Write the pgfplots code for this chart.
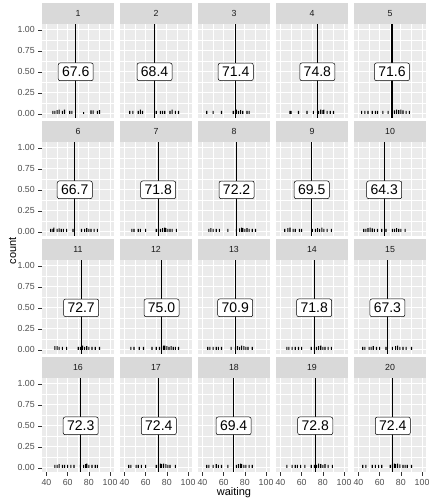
\documentclass[border=0pt]{standalone}
\usepackage{fontspec}
\setmainfont{Liberation Sans}
\usepackage{pgfplots}
\pgfplotsset{compat=1.18}
\definecolor{panelbg}{RGB}{235,235,235}
\definecolor{stripbg}{RGB}{217,217,217}
\definecolor{gray30}{RGB}{77,77,77}
\definecolor{gray20}{RGB}{51,51,51}
\definecolor{gray10}{RGB}{26,26,26}

\tikzset{
  lbl/.style={fill=white, draw=black, line width=0.5bp, rounded corners=2bp,
    inner sep=3.9bp, font=\fontsize{14bp}{16bp}\selectfont, text=black},
}
\pgfplotsset{
  panel/.style={
    anchor=north west, width=72bp, height=94bp, scale only axis,
    xmin=35.8, xmax=103.7, ymin=-0.05, ymax=1.07,
    xtick={40,60,80,100}, ytick={0,0.25,0.5,0.75,1},
    minor tick num=1, minor tick length=0pt,
    grid=both,
    major grid style={white, line width=1.1bp},
    minor grid style={white, line width=0.55bp},
    axis background/.style={fill=panelbg},
    axis line style={draw=none},
    tick pos=left,
    tick align=outside, major tick length=3.7bp,
    tick style={gray20, line width=0.55bp},
    xtick style={draw=none}, ytick style={draw=none},
    xticklabels={}, yticklabels={},
    /pgf/number format/assume math mode=true,
    ticklabel style={font=\fontsize{8.8bp}{10bp}\selectfont, text=gray30},
    clip=true,
  },
  leftcol/.style={
    ytick style={draw, gray20, line width=0.55bp},
    yticklabels={0.00,0.25,0.50,0.75,1.00},
  },
  bottomrow/.style={
    xtick style={draw, gray20, line width=0.55bp},
    xticklabels={40,60,80,100},
  },
  bars/.style={ybar, bar width=1.05, fill=black, draw=none},
  vline/.style={black, line width=1.1bp},
}

% #1 x, #2 y, #3 facet, #4 mean, #5 bars, #6 extra options
\newcommand{\panel}[6]{%
\begin{axis}[panel, at={(#1bp,#2bp)}, #6,
  extra description/.code={%
    \fill[stripbg] (rel axis cs:0,1) rectangle ([yshift=20.5bp]rel axis cs:1,1);
    \node[font=\fontsize{8.8bp}{10bp}\selectfont, text=gray10]
      at ([yshift=10.5bp]rel axis cs:0.5,1) {#3};}]
\addplot[bars] coordinates {#5};
\addplot[vline] coordinates {(#4,-0.05) (#4,1.07)} node[pos=0.49107, lbl] {#4};
\end{axis}}

\begin{document}
\begin{tikzpicture}
% row 1
\panel{42}{480}{1}{67.6}{(46,0.035)(48,0.035)(50,0.045)(52,0.05)(55,0.035)(57,0.05)(62,0.035)(64,0.035)(75,0.02)(82,0.04)(84,0.04)(88,0.035)(90,0.045)}{leftcol}
\panel{120}{480}{2}{68.4}{(45,0.035)(48,0.035)(53,0.035)(55,0.05)(57,0.035)(70,0.035)(74,0.035)(76,0.035)(78,0.035)(83,0.035)(85,0.05)(88,0.035)(91,0.035)}{}
\panel{198}{480}{3}{71.4}{(44,0.035)(50,0.035)(58,0.035)(69,0.035)(71,0.04)(72,0.05)(74,0.035)(76,0.045)(78,0.035)(82,0.035)(84,0.035)}{}
\panel{276}{480}{4}{74.8}{(49,0.035)(50,0.035)(57,0.035)(65,0.035)(71,0.035)(76,0.035)(78,0.05)(80,0.045)(81,0.05)(84,0.035)(87,0.035)(90,0.035)}{}
\panel{354}{480}{5}{71.6}{(43,0.035)(46,0.035)(49,0.035)(53,0.035)(56,0.035)(58,0.035)(63,0.035)(68,0.035)(72,0.035)(74,0.04)(76,0.05)(78,0.045)(80,0.05)(82,0.04)(85,0.035)(88,0.035)}{}
% row 2
\panel{42}{362}{6}{66.7}{(44,0.035)(46,0.035)(47,0.05)(50,0.035)(52,0.04)(54,0.035)(56,0.035)(59,0.035)(65,0.035)(73,0.035)(76,0.035)(78,0.045)(80,0.035)(82,0.035)(85,0.035)(88,0.035)}{leftcol}
\panel{120}{362}{7}{71.8}{(47,0.035)(49,0.035)(53,0.035)(55,0.035)(60,0.035)(70,0.035)(72,0.035)(74,0.035)(76,0.045)(78,0.05)(79,0.045)(81,0.035)(83,0.035)(85,0.035)(89,0.035)}{}
\panel{198}{362}{8}{72.2}{(46,0.035)(48,0.045)(50,0.035)(53,0.035)(56,0.035)(64,0.035)(72,0.035)(75,0.04)(77,0.05)(78,0.045)(80,0.035)(82,0.045)(84,0.035)(87,0.035)(90,0.035)}{}
\panel{276}{362}{9}{69.5}{(44,0.035)(47,0.045)(49,0.05)(52,0.035)(54,0.035)(58,0.035)(60,0.035)(70,0.035)(73,0.035)(75,0.045)(77,0.035)(79,0.05)(81,0.035)(84,0.035)(88,0.035)}{}
\panel{354}{362}{10}{64.3}{(45,0.035)(47,0.035)(49,0.045)(51,0.05)(53,0.04)(55,0.035)(58,0.035)(62,0.035)(66,0.035)(72,0.035)(74,0.035)(76,0.045)(78,0.035)(80,0.035)(84,0.035)}{}
% row 3
\panel{42}{244}{11}{72.7}{(48,0.045)(50,0.045)(52,0.035)(55,0.035)(59,0.035)(70,0.035)(72,0.035)(74,0.05)(76,0.035)(78,0.045)(80,0.035)(83,0.035)(86,0.035)(90,0.035)}{leftcol}
\panel{120}{244}{12}{75.0}{(46,0.035)(49,0.035)(54,0.035)(58,0.035)(66,0.035)(70,0.035)(73,0.035)(75,0.04)(77,0.05)(78,0.05)(80,0.045)(82,0.035)(84,0.045)(86,0.035)(88,0.035)(91,0.035)}{}
\panel{198}{244}{13}{70.9}{(45,0.035)(47,0.035)(50,0.035)(53,0.035)(55,0.035)(58,0.035)(67,0.035)(71,0.035)(73,0.045)(75,0.035)(77,0.05)(79,0.045)(81,0.035)(83,0.035)(87,0.035)}{}
\panel{276}{244}{14}{71.8}{(46,0.035)(48,0.035)(51,0.035)(54,0.035)(57,0.035)(60,0.035)(69,0.035)(72,0.035)(74,0.035)(76,0.045)(78,0.05)(80,0.035)(82,0.035)(85,0.035)(88,0.035)}{}
\panel{354}{244}{15}{67.3}{(44,0.035)(46,0.035)(50,0.035)(52,0.035)(54,0.045)(57,0.035)(60,0.035)(66,0.035)(72,0.035)(75,0.045)(77,0.05)(79,0.035)(82,0.035)(85,0.035)(90,0.035)}{}
% row 4
\panel{42}{126}{16}{72.3}{(48,0.035)(50,0.035)(52,0.045)(55,0.035)(57,0.035)(60,0.035)(63,0.035)(66,0.035)(72,0.035)(75,0.035)(77,0.045)(78,0.05)(80,0.035)(83,0.035)(86,0.035)(88,0.035)}{leftcol, bottomrow}
\panel{120}{126}{17}{72.4}{(44,0.035)(46,0.035)(51,0.035)(53,0.035)(56,0.035)(60,0.035)(70,0.035)(72,0.035)(74,0.05)(75,0.045)(77,0.05)(79,0.045)(81,0.035)(83,0.035)(88,0.035)}{bottomrow}
\panel{198}{126}{18}{69.4}{(44,0.035)(46,0.035)(50,0.035)(53,0.045)(55,0.035)(58,0.035)(64,0.035)(72,0.035)(74,0.045)(76,0.05)(77,0.045)(79,0.035)(81,0.035)(84,0.035)(87,0.035)}{bottomrow}
\panel{276}{126}{19}{72.8}{(46,0.035)(51,0.035)(54,0.035)(56,0.035)(59,0.035)(63,0.035)(69,0.035)(72,0.035)(74,0.035)(76,0.05)(78,0.045)(80,0.035)(82,0.045)(85,0.035)(89,0.035)}{bottomrow}
\panel{354}{126}{20}{72.4}{(44,0.035)(47,0.035)(53,0.035)(56,0.035)(59,0.035)(62,0.035)(70,0.035)(72,0.04)(74,0.05)(75,0.045)(77,0.05)(79,0.04)(82,0.035)(84,0.035)(86,0.035)(90,0.035)}{bottomrow}
% axis titles
\node[rotate=90, font=\fontsize{11bp}{13bp}\selectfont] at (12.5bp,253bp) {count};
\node[font=\fontsize{11bp}{13bp}\selectfont] at (234bp,11bp) {waiting};
\pgfresetboundingbox
\useasboundingbox (0,0) rectangle (432bp,504bp);
\end{tikzpicture}
\end{document}
